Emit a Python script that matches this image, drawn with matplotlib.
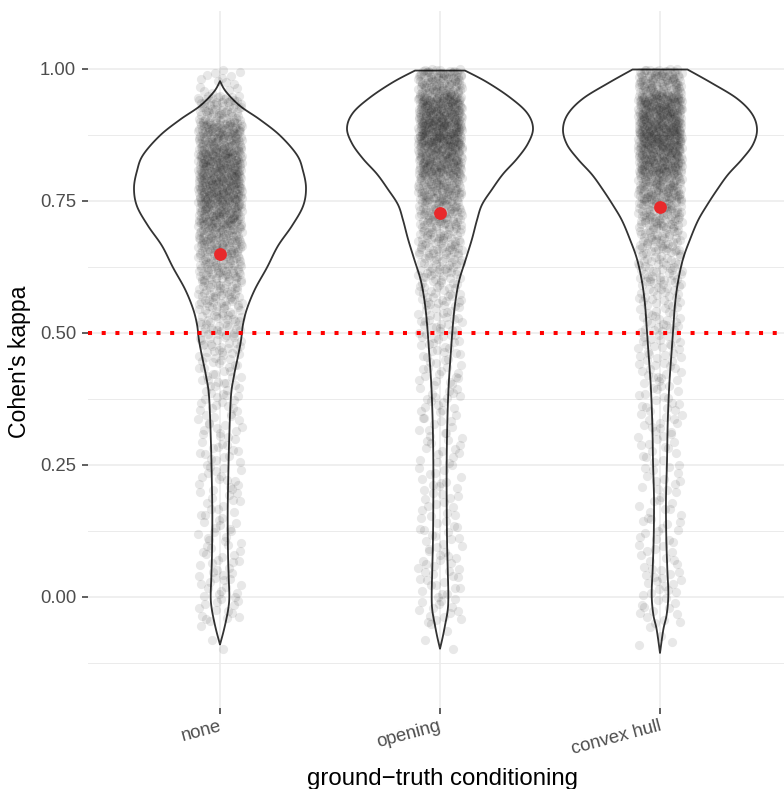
import numpy as np
import matplotlib
matplotlib.use("Agg")
import matplotlib.pyplot as plt

plt.rcParams['font.family'] = ['Liberation Sans', 'DejaVu Sans']

# ---------------- data ----------------
categories = ['none', 'opening', 'convex hull']
yticks = [0.0, 0.25, 0.5, 0.75, 1.0]
ytick_labels = ['0.00', '0.25', '0.50', '0.75', '1.00']
threshold = 0.5

# histogram of kappa values (bins of 0.05 from -0.10 to 1.00)
bin_lo = [-0.10, -0.05, 0.00, 0.05, 0.10, 0.15, 0.20, 0.25, 0.30, 0.35, 0.40,
          0.45, 0.50, 0.55, 0.60, 0.65, 0.70, 0.75, 0.80, 0.85, 0.90, 0.95]
counts_none = [3, 14, 17, 15, 14, 14, 15, 16, 17, 19, 23,
               32, 41, 55, 73, 97, 130, 154, 149, 119, 66, 15]
counts_opening = [4, 14, 16, 15, 14, 13, 13, 13, 14, 16, 18,
                  22, 26, 33, 46, 61, 76, 103, 144, 177, 163, 101]
counts_convex = [4, 13, 15, 13, 12, 11, 12, 13, 15, 16, 19,
                 22, 26, 31, 39, 56, 78, 108, 152, 178, 165, 102]

# group means (red points)
mean_kappa = [0.650, 0.727, 0.739]

# violin outlines: kappa level and relative density (half-width, max ~ 99)
vk_none = [-0.090, -0.067, -0.045, -0.022, 0.000, 0.037, 0.082, 0.157, 0.232, 0.306,
           0.381, 0.419, 0.456, 0.486, 0.516, 0.546, 0.583, 0.624, 0.665, 0.703,
           0.740, 0.774, 0.807, 0.837, 0.874, 0.904, 0.930, 0.957, 0.977]
vd_none = [0, 3.3, 6, 8.3, 9.3, 8.7, 8, 7.7, 8.3, 9.3,
           11, 14, 18, 21, 23, 27, 35, 47, 58, 72,
           83, 86, 83, 77, 60, 40, 20, 6, 0]
vk_opening = [-0.098, -0.076, -0.054, -0.025, 0.004, 0.054, 0.112, 0.185, 0.257, 0.330,
              0.402, 0.467, 0.511, 0.554, 0.598, 0.641, 0.678, 0.714, 0.743, 0.772,
              0.801, 0.830, 0.859, 0.888, 0.917, 0.946, 0.975, 0.997]
vd_opening = [0, 2.7, 5, 7.7, 8.3, 7.7, 7, 6.7, 6.7, 7.3,
              8.7, 11, 12.7, 15, 19, 26, 32, 37, 42, 52,
              63, 77, 88, 93, 87, 70, 47, 25]
vk_convex = [-0.106, -0.062, -0.033, 0.004, 0.054, 0.112, 0.185, 0.257, 0.329, 0.402,
             0.467, 0.510, 0.554, 0.597, 0.640, 0.677, 0.713, 0.742, 0.771, 0.800,
             0.829, 0.857, 0.886, 0.915, 0.944, 0.973, 0.999]
vd_convex = [0, 3.3, 6.7, 8.3, 7.3, 6.3, 6, 7, 7.7, 9.3,
             11.7, 13.3, 15, 18, 23, 30, 38, 47, 57, 68,
             82, 93, 97, 92, 77, 52, 27.5]

counts_all = [counts_none, counts_opening, counts_convex]
violins = [(vk_none, vd_none), (vk_opening, vd_opening), (vk_convex, vd_convex)]

# ---------------- drawing ----------------
W, H = 784, 789
fig = plt.figure(figsize=(W / 100, H / 100), dpi=100)
left, right, top, bottom = 88, 792, 11, 707.5
ax = fig.add_axes([left / W, (H - bottom) / H, (right - left) / W, (bottom - top) / H])
ax.set_xlim(0.4, 3.6)
ax.set_ylim(-0.2093, 1.1098)
for s in ax.spines.values():
    s.set_visible(False)

ax.set_yticks(yticks)
ax.set_yticklabels(ytick_labels)
ax.set_yticks([-0.125, 0.125, 0.375, 0.625, 0.875], minor=True)
ax.set_xticks([1, 2, 3])
ax.set_xticklabels(categories, rotation=15, ha='right')
ax.grid(True, which='major', color='#EBEBEB', lw=1.1)
ax.grid(True, which='minor', axis='y', color='#EBEBEB', lw=0.7)
ax.set_axisbelow(True)
ax.tick_params(which='major', length=4, width=1.1, color='#333333',
               labelcolor='#4D4D4D', labelsize=13.3)
ax.tick_params(axis='y', pad=4.5)
ax.tick_params(axis='x', pad=3.5)
ax.tick_params(which='minor', length=0)

import matplotlib.transforms as mtrans
for lab in ax.get_xticklabels():
    lab.set_transform(lab.get_transform() + mtrans.ScaledTranslation(3 / 100, 0, fig.dpi_scale_trans))


def catmull(xs, ys, n=14):
    P = np.column_stack([xs, ys]).astype(float)
    P = np.vstack([P[0], P, P[-1]])
    out = []
    t = np.linspace(0, 1, n, endpoint=False)[:, None]
    for i in range(1, len(P) - 2):
        p0, p1, p2, p3 = P[i - 1], P[i], P[i + 1], P[i + 2]
        seg = 0.5 * ((2 * p1) + (-p0 + p2) * t + (2 * p0 - 5 * p1 + 4 * p2 - p3) * t ** 2
                     + (-p0 + 3 * p1 - 3 * p2 + p3) * t ** 3)
        out.append(seg)
    out.append(P[-2][None, :])
    return np.vstack(out)


wscale = 0.45 / 99.0
for gi, (vk, vd) in enumerate(violins):
    c = gi + 1
    curve = catmull(vk, vd)
    kk, dd = curve[:, 0], np.clip(curve[:, 1], 0, None)
    xr = c + dd * wscale
    xl = c - dd * wscale
    xs = np.concatenate([xr, xl[::-1]])
    ys = np.concatenate([kk, kk[::-1]])
    ax.fill(xs, ys, facecolor='none', edgecolor='#333333', lw=1.3, zorder=2,
            joinstyle='round')


def halton(i, b):
    f, r = 1.0, 0.0
    while i > 0:
        f /= b
        r += f * (i % b)
        i //= b
    return r


# jittered points (deterministic low-discrepancy jitter, width 0.1)
idx = 7
px, py = [], []
for gi, counts in enumerate(counts_all):
    for lo, cnt in zip(bin_lo, counts):
        for j in range(cnt):
            idx += 1
            fx = halton(idx, 2)
            fy = halton(idx, 3)
            py.append(lo + fy * 0.05)
            px.append(gi + 1 + (2 * fx - 1) * 0.1)
ax.scatter(px, py, s=44, c='black', alpha=0.09, linewidths=0, zorder=3)

ax.axhline(threshold, color='#FF0000', lw=2.9, ls=(0, (1, 2.4)),
           dash_capstyle='butt', zorder=4)
ax.scatter([1, 2, 3], mean_kappa, s=85, c='#E8292B', linewidths=0, zorder=5)

fig.text(20 / W, 1 - 362 / H, "Cohen's kappa", rotation=90, ha='center', va='center',
         fontsize=16.6, color='black')
fig.text(442 / W, (H - 785) / H, "ground\u2212truth conditioning", ha='center',
         va='baseline', fontsize=17.3, color='black')

fig.savefig('out.png', dpi=100)
